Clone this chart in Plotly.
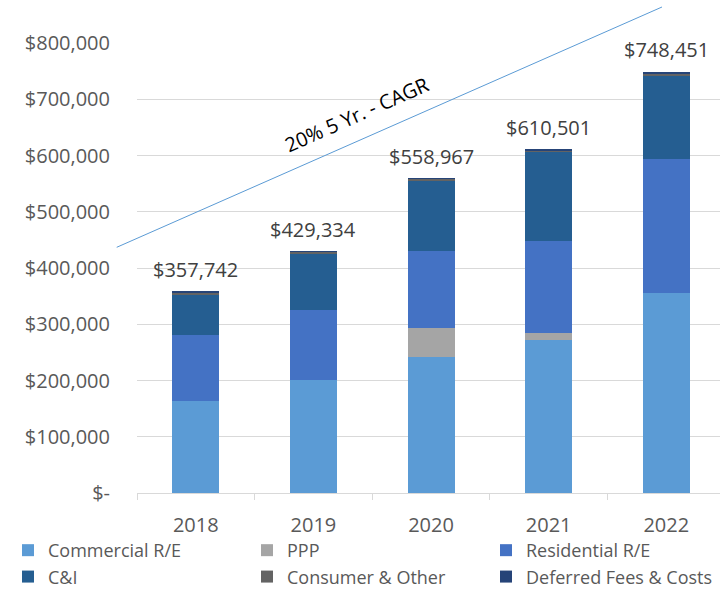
import plotly.graph_objects as go

years = ["2018", "2019", "2020", "2021", "2022"]
commercial_re = [164000, 201000, 242500, 272000, 355000]
ppp = [0, 0, 51000, 13000, 0]
residential_re = [117000, 124500, 136500, 163500, 238000]
c_and_i = [72500, 99500, 126000, 158000, 149500]
consumer_other = [3500, 3500, 2500, 3000, 3200]
deferred_fees = [742, 834, 467, 1001, 2751]

series_names = ["Commercial R/E", "PPP", "Residential R/E", "C&I",
                "Consumer & Other", "Deferred Fees & Costs"]
series_values = [commercial_re, ppp, residential_re, c_and_i,
                 consumer_other, deferred_fees]
series_colors = ["#5B9BD5", "#A5A5A5", "#4472C4", "#255E91",
                 "#636363", "#264478"]

y_tick_vals = [0, 100000, 200000, 300000, 400000, 500000, 600000, 700000, 800000]
y_tick_text = ["$-", "$100,000", "$200,000", "$300,000", "$400,000",
               "$500,000", "$600,000", "$700,000", "$800,000"]

cagr_label = "20% 5 Yr. - CAGR"

totals = [sum(v[i] for v in series_values) for i in range(len(years))]

FONT = "Open Sans"
fig = go.Figure()
for name, vals, col in zip(series_names, series_values, series_colors):
    fig.add_trace(go.Bar(x=years, y=vals, name=name, marker_color=col,
                         marker_line_width=0, width=0.4))

for i, tot in enumerate(totals):
    fig.add_annotation(x=i, y=tot, xref="x", yref="y",
                       text="$" + "{:,}".format(tot), showarrow=False,
                       xanchor="center", yanchor="bottom", yshift=7,
                       font=dict(family=FONT, size=20, color="#404040"))

# CAGR trend line (decorative, paper coords)
fig.add_shape(type="line", xref="paper", yref="paper",
              x0=-0.0348, y0=0.546, x1=0.9005, y1=1.08,
              line=dict(color="#5B9BD5", width=1))
fig.add_annotation(xref="paper", yref="paper", x=0.3765, y=0.8422,
                   text=cagr_label, showarrow=False, textangle=-24,
                   xanchor="center", yanchor="middle",
                   font=dict(family=FONT, size=20, color="#000000"))

fig.update_layout(
    width=720, height=589,
    margin=dict(l=137, r=0, t=43, b=96, autoexpand=False),
    barmode="stack",
    plot_bgcolor="white", paper_bgcolor="white",
    font=dict(family=FONT, color="#595959"),
    xaxis=dict(type="category", range=[-0.5, 4.457], showline=True,
               linecolor="#D9D9D9", linewidth=1, ticks="outside",
               tickson="boundaries", ticklen=6, tickcolor="#D9D9D9",
               showgrid=False, tickfont=dict(size=20, color="#595959"),
               ticklabelstandoff=14),
    yaxis=dict(range=[0, 800000], tickvals=y_tick_vals, ticktext=y_tick_text,
               showgrid=True, gridcolor="#D9D9D9", gridwidth=1,
               zeroline=False, showline=False,
               tickfont=dict(size=20, color="#595959"), ticklabelstandoff=26),
    legend=dict(orientation="h", x=-0.2213, y=-0.0866, xanchor="left",
                yanchor="top", entrywidth=194, entrywidthmode="pixels",
                font=dict(size=18, color="#595959"), traceorder="normal",
                bgcolor="rgba(0,0,0,0)"),
    showlegend=True,
)

fig.write_html("out.html",
               config={"displayModeBar": False},
               post_script="document.body.style.margin='0';"
                           "document.body.style.padding='0';")
